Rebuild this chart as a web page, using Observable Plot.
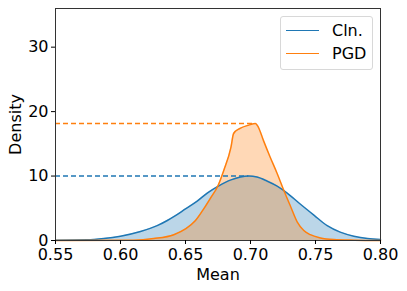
<!DOCTYPE html>
<html><head><meta charset="utf-8">
<script src="https://cdn.jsdelivr.net/npm/d3@7"></script>
<script src="https://cdn.jsdelivr.net/npm/@observablehq/plot@0.6"></script>
<style>
body{margin:0;background:#fff;font-family:"DejaVu Sans",sans-serif;}
#wrap{position:relative;width:407px;height:291px;}
#legend{position:absolute;left:280px;top:16px;width:91px;height:52px;border:1px solid #d8d8d8;border-radius:3px;background:rgba(255,255,255,0.8);font-size:16px;color:#000;}
.item{position:absolute;left:5px;display:flex;align-items:center;}
.sw{width:33px;height:0;border-top:1.5px solid;margin-right:13px;}
</style></head><body>
<div id="wrap"><div id="legend"></div></div>
<script>
const seriesNames = ["Cln.", "PGD"];
const colors = ["#1f77b4", "#ff7f0e"];
const clnX = [0.55,0.5744,0.5872,0.60,0.6154,0.6282,0.636,0.641,0.65,0.659,0.667,0.675,0.685,0.6987,0.705,0.713,0.7205,0.728,0.738,0.749,0.759,0.769,0.7795,0.79,0.80];
const clnY = [0.05,0.1,0.3,0.67,1.4,2.3,3.1,3.7,4.9,6.1,7.4,8.4,9.4,10.0,9.85,9.2,8.45,7.4,5.7,3.9,2.3,1.3,0.67,0.3,0.15];
const pgdX = [0.55,0.6103,0.6256,0.641,0.65,0.6577,0.664,0.669,0.675,0.6795,0.685,0.687,0.692,0.6987,0.7038,0.706,0.71,0.715,0.7205,0.7256,0.731,0.736,0.741,0.746,0.7538,0.764,0.78,0.80];
const pgdY = [0,0.05,0.3,0.9,1.8,3.1,4.9,6.5,8.5,10.9,14.5,16.6,17.4,17.9,18.15,17.6,15.5,13,10.4,7.8,5.2,2.85,1.55,0.9,0.4,0.15,0.05,0];
const peaks = [{name:"Cln.", x:0.6987, y:10.0}, {name:"PGD", x:0.7038, y:18.15}];
const xTicks = [0.55,0.60,0.65,0.70,0.75,0.80];
const yTicks = [0,10,20,30];

const cln = clnX.map((x,i)=>({x, y:clnY[i]}));
const pgd = pgdX.map((x,i)=>({x, y:pgdY[i]}));

const chart = Plot.plot({
  width:407, height:291,
  marginLeft:55, marginRight:27, marginTop:8, marginBottom:51,
  style:{fontFamily:"DejaVu Sans", fontSize:"16px", color:"#000", background:"#fff"},
  x:{domain:[0.55,0.80]},
  y:{domain:[0,36]},
  marks:[
    Plot.areaY(cln,{x:"x", y:"y", fill:colors[0], fillOpacity:0.3, curve:"monotone-x"}),
    Plot.areaY(pgd,{x:"x", y:"y", fill:colors[1], fillOpacity:0.3, curve:"monotone-x"}),
    Plot.line(cln,{x:"x", y:"y", stroke:colors[0], strokeWidth:1.5, curve:"monotone-x"}),
    Plot.line(pgd,{x:"x", y:"y", stroke:colors[1], strokeWidth:1.5, curve:"monotone-x"}),
    Plot.ruleY(peaks,{y:"y", x1:0.55, x2:"x", stroke:(d,i)=>colors[i], strokeWidth:1.5, strokeDasharray:"5,3"}),
    Plot.frame({stroke:"#333", strokeWidth:1}),
    Plot.axisX({ticks:xTicks, tickFormat:d3.format(".2f"), tickSize:4, tickPadding:4, label:"Mean", labelAnchor:"center", labelArrow:"none", labelOffset:39, fontSize:16}),
    Plot.axisY({ticks:yTicks, tickSize:4, tickPadding:3, label:"Density", labelAnchor:"center", labelArrow:"none", labelOffset:46, fontSize:16})
  ]
});
document.getElementById("wrap").prepend(chart);
chart.style.position="absolute"; chart.style.left="0"; chart.style.top="0";
const lg = document.getElementById("legend");
seriesNames.forEach((n,i)=>{
  const it = document.createElement("div");
  it.className="item"; it.style.top=(i===0?4:27)+"px";
  it.innerHTML=`<span class="sw" style="border-color:${colors[i]}"></span><span>${n}</span>`;
  lg.appendChild(it);
});
</script>
</body></html>
